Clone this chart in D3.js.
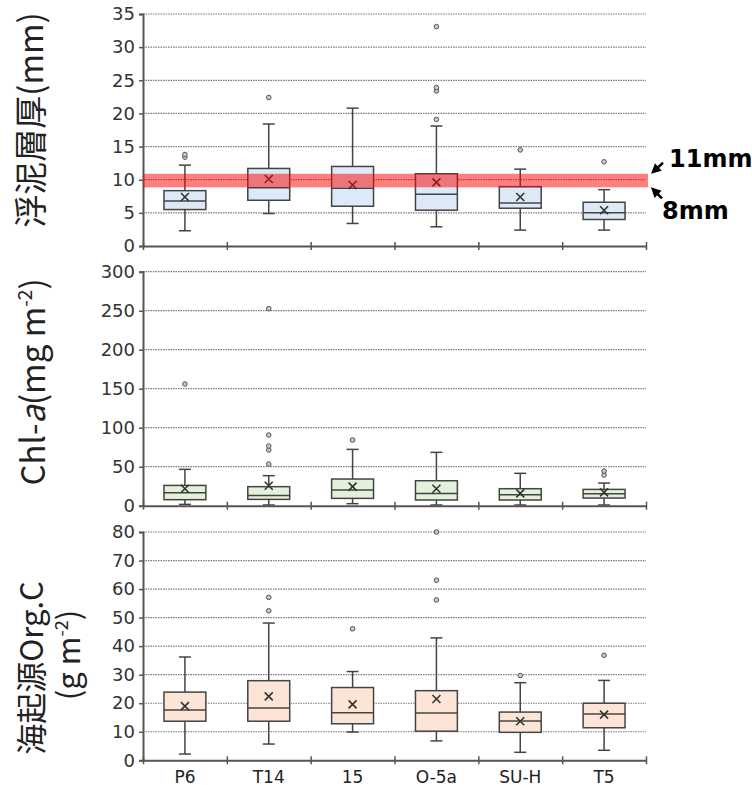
<!DOCTYPE html>
<html>
<head>
<meta charset="utf-8">
<script src="https://cdn.jsdelivr.net/npm/d3@7"></script>
<style>
  body { margin: 0; background: #fff; }
  svg { display: block; }
</style>
</head>
<body>
<div class="chart"></div>
<script>
// station names along the x axis
const categories = ["P6", "T14", "15", "O-5a", "SU-H", "T5"];

// box stats per station: [min, q1, median, q3, max, mean]
const mudStats = [
    [2.3, 5.5, 6.8, 8.35, 12.2, 7.4],
    [4.9, 6.9, 8.8, 11.7, 18.4, 10.1],
    [3.4, 6.0, 8.7, 12.0, 20.8, 9.2],
    [2.9, 5.4, 7.8, 10.9, 18.1, 9.6],
    [2.4, 5.7, 6.5, 8.95, 11.6, 7.4],
    [2.4, 4.0, 5.0, 6.6, 8.5, 5.4]
];
const mudOutliers = [[13.4, 13.8], [22.4], [], [19.1, 23.4, 23.9, 33.1], [14.5], [12.7]];

const chlStats = [
    [1.7, 7.7, 16.7, 26.0, 46.6, 21.8],
    [0.9, 8.1, 13.2, 24.4, 38.5, 25.6],
    [2.6, 9.4, 20.0, 34.2, 72.2, 24.4],
    [0.9, 7.3, 15.8, 32.0, 68.4, 21.8],
    [0.9, 7.3, 14.1, 21.8, 41.5, 15.8],
    [0.9, 9.8, 15.4, 20.9, 29.0, 17.0]
];
const chlOutliers = [[156], [53.4, 71.4, 76.5, 90.6, 252.6], [84.2], [], [], [39.3, 44.4]];

const orgStats = [
    [2.2, 13.7, 17.6, 23.9, 36.2, 19.0],
    [5.7, 13.7, 18.3, 27.9, 48.1, 22.4],
    [9.9, 12.8, 16.7, 25.5, 31.1, 19.6],
    [6.8, 10.2, 16.6, 24.4, 42.9, 21.5],
    [2.8, 9.8, 13.8, 16.9, 27.2, 13.7],
    [3.5, 11.4, 16.2, 20.0, 28.0, 16.0]
];
const orgOutliers = [[], [52.4, 57.1], [46.1], [56.2, 63.1, 80], [29.7], [36.8]];

const mudTicks = [0, 5, 10, 15, 20, 25, 30, 35];
const chlTicks = [0, 50, 100, 150, 200, 250, 300];
const orgTicks = [0, 10, 20, 30, 40, 50, 60, 70, 80];

// suitable mud thickness band (mm)
const bandLow = 8.85, bandHigh = 10.9;

let width = 752, height = 785;
let svg = d3.select(".chart").append("svg")
    .attr("width", width).attr("height", height);

let x = d3.scaleBand().domain(categories).range([143, 646]);
// linear copy used for the boundary ticks on the x axis
let xEdge = d3.scaleLinear().domain([0, categories.length]).range(x.range());

let panels = [
    { stats: mudStats, outliers: mudOutliers, ticks: mudTicks, range: [246, 14], fill: "#dde9f6" },
    { stats: chlStats, outliers: chlOutliers, ticks: chlTicks, range: [505.7, 271.7], fill: "#e3f1da" },
    { stats: orgStats, outliers: orgOutliers, ticks: orgTicks, range: [760.3, 532], fill: "#fce5d6" }
];

let font = "DejaVu Sans, Verdana, sans-serif";
let boxW = x.bandwidth() * 0.5, capW = 12;

panels.forEach((p) => {
    let y = d3.scaleLinear()
        .domain([0, d3.max(p.ticks)])
        .range(p.range);
    p.y = y;

    let g = svg.append("g");

    // dotted grid lines
    g.selectAll(".grid").data(p.ticks.slice(1)).enter().append("line")
        .attr("x1", x.range()[0]).attr("x2", x.range()[1])
        .attr("y1", d => y(d)).attr("y2", d => y(d))
        .attr("stroke", "#7a7a7a").attr("stroke-width", 1.2)
        .attr("stroke-dasharray", "1.5,1");

    // y axis
    let ya = g.append("g")
        .attr("transform", "translate(" + x.range()[0] + ",0)")
        .call(d3.axisLeft(y).tickValues(p.ticks).tickSize(4).tickPadding(4));
    ya.select(".domain").attr("stroke", "#555").attr("stroke-width", 2);
    ya.selectAll(".tick line").attr("stroke", "#555").attr("stroke-width", 1.5);
    ya.selectAll("text").attr("font-family", font).attr("font-size", 18).attr("fill", "#333");

    // boxes
    let b = g.selectAll(".box").data(p.stats).enter().append("g")
        .attr("transform", (d, i) => "translate(" + (x(categories[i]) + x.bandwidth() / 2) + ",0)");

    b.append("line").attr("x1", 0).attr("x2", 0)
        .attr("y1", d => y(d[0])).attr("y2", d => y(d[4]))
        .attr("stroke", "#444").attr("stroke-width", 1.5);
    b.append("line").attr("x1", -capW / 2).attr("x2", capW / 2)
        .attr("y1", d => y(d[4])).attr("y2", d => y(d[4]))
        .attr("stroke", "#444").attr("stroke-width", 1.5);
    b.append("line").attr("x1", -capW / 2).attr("x2", capW / 2)
        .attr("y1", d => y(d[0])).attr("y2", d => y(d[0]))
        .attr("stroke", "#444").attr("stroke-width", 1.5);
    b.append("rect")
        .attr("x", -boxW / 2).attr("width", boxW)
        .attr("y", d => y(d[3])).attr("height", d => y(d[1]) - y(d[3]))
        .attr("fill", p.fill).attr("stroke", "#444").attr("stroke-width", 1.5);
    b.append("line").attr("x1", -boxW / 2).attr("x2", boxW / 2)
        .attr("y1", d => y(d[2])).attr("y2", d => y(d[2]))
        .attr("stroke", "#444").attr("stroke-width", 1.5);
    // mean marker
    b.append("path")
        .attr("d", d => {
            let cy = y(d[5]), s = 4;
            return "M" + (-s) + "," + (cy - s) + "L" + s + "," + (cy + s) +
                "M" + s + "," + (cy - s) + "L" + (-s) + "," + (cy + s);
        })
        .attr("stroke", "#333").attr("stroke-width", 1.6);

    // outliers
    b.each(function(d, i) {
        d3.select(this).selectAll("circle").data(p.outliers[i]).enter().append("circle")
            .attr("cx", 0).attr("cy", v => y(v)).attr("r", 2.3)
            .attr("fill", "#c8c8c8").attr("stroke", "#555").attr("stroke-width", 1);
    });

    // x axis with boundary ticks
    let xa = g.append("g")
        .attr("transform", "translate(0," + y(0) + ")")
        .call(d3.axisBottom(xEdge).tickValues(d3.range(categories.length + 1)).tickSize(0).tickFormat(""));
    xa.select(".domain").attr("stroke", "#555").attr("stroke-width", 2);
    xa.selectAll(".tick line").attr("y1", -4).attr("y2", 4)
        .attr("stroke", "#555").attr("stroke-width", 1.5);
});

// red band on the top panel
let yTop = panels[0].y;
svg.append("rect")
    .attr("x", x.range()[0]).attr("width", x.range()[1] - x.range()[0] + 2)
    .attr("y", yTop(bandHigh)).attr("height", yTop(bandLow) - yTop(bandHigh))
    .attr("fill", "#ff0000").attr("opacity", 0.5);

// arrows and labels for the band
function arrow(x0, y0, x1, y1) {
    let ang = Math.atan2(y1 - y0, x1 - x0), L = 10, W = 5;
    svg.append("line").attr("x1", x0).attr("y1", y0)
        .attr("x2", x1 - Math.cos(ang) * L * 0.8).attr("y2", y1 - Math.sin(ang) * L * 0.8)
        .attr("stroke", "#000").attr("stroke-width", 2.5);
    let bx = x1 - Math.cos(ang) * L, by = y1 - Math.sin(ang) * L;
    svg.append("path")
        .attr("d", "M" + x1 + "," + y1 +
            "L" + (bx + Math.sin(ang) * W) + "," + (by - Math.cos(ang) * W) +
            "L" + (bx - Math.sin(ang) * W) + "," + (by + Math.cos(ang) * W) + "Z")
        .attr("fill", "#000");
}
let ax = x.range()[1] + 5;
arrow(ax + 12, yTop(bandHigh) - 11, ax, yTop(bandHigh));
arrow(ax + 11, yTop(bandLow) + 11, ax, yTop(bandLow));
svg.append("text").attr("x", 669).attr("y", yTop(bandHigh) - 7)
    .attr("font-family", font).attr("font-weight", "bold").attr("font-size", 24)
    .text("11mm");
svg.append("text").attr("x", 662).attr("y", yTop(bandLow) + 32)
    .attr("font-family", font).attr("font-weight", "bold").attr("font-size", 24)
    .text("8mm");

// x labels
svg.selectAll(".xlab").data(categories).enter().append("text")
    .attr("x", d => x(d) + x.bandwidth() / 2).attr("y", 783)
    .attr("text-anchor", "middle")
    .attr("font-family", font).attr("font-size", 17).attr("fill", "#222")
    .text(d => d);

// y axis titles
let cjk = "Noto Sans CJK JP, sans-serif";
function title(cx, cy) {
    return svg.append("text")
        .attr("transform", "translate(" + cx + "," + cy + ") rotate(-90)")
        .attr("text-anchor", "middle")
        .attr("font-family", cjk).attr("font-size", 33).attr("fill", "#222");
}
title(43, 120).text("浮泥層厚(mm)");

let t2 = title(45, 382);
t2.append("tspan").text("Chl-");
t2.append("tspan").attr("font-style", "italic").text("a");
t2.append("tspan").text("(mg m");
t2.append("tspan").attr("font-size", 19).attr("dy", -13).text("-2");
t2.append("tspan").attr("dy", 13).text(")");

title(43, 668).attr("font-size", 31).text("海起源Org.C");
let t4 = title(80, 655).attr("font-size", 31);
t4.append("tspan").text("(g m");
t4.append("tspan").attr("font-size", 18).attr("dy", -12).text("-2");
t4.append("tspan").attr("dy", 12).text(")");
</script>
</body>
</html>
